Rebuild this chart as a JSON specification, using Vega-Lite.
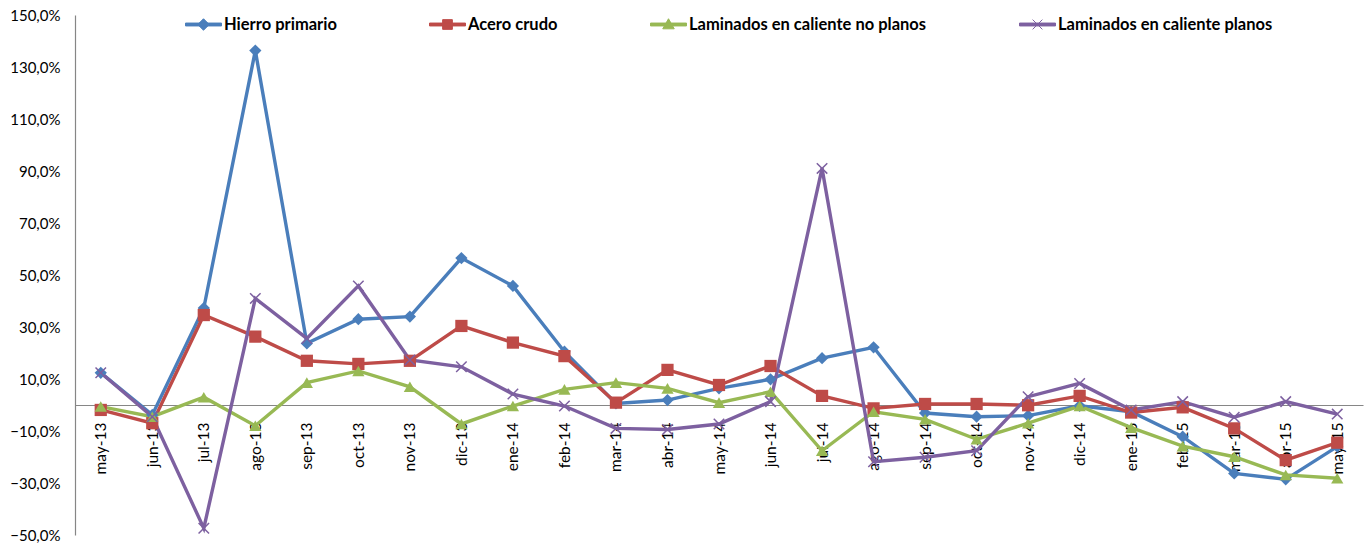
{
  "$schema": "https://vega.github.io/schema/vega-lite/v6.json",
  "width": 1288,
  "height": 520,
  "autosize": {"type": "none"},
  "padding": {"left": 75, "top": 15, "right": 5, "bottom": 9},
  "background": "white",
  "config": {"view": {"stroke": null}, "font": "Lato"},
  "datasets": {
    "d": [
      {"mes":"may-13","serie":"Hierro primario","valor":12.4},{"mes":"jun-13","serie":"Hierro primario","valor":-3.8},{"mes":"jul-13","serie":"Hierro primario","valor":37.3},{"mes":"ago-13","serie":"Hierro primario","valor":136.3},{"mes":"sep-13","serie":"Hierro primario","valor":23.7},{"mes":"oct-13","serie":"Hierro primario","valor":33.0},{"mes":"nov-13","serie":"Hierro primario","valor":34.0},{"mes":"dic-13","serie":"Hierro primario","valor":56.5},{"mes":"ene-14","serie":"Hierro primario","valor":45.8},{"mes":"feb-14","serie":"Hierro primario","valor":20.5},{"mes":"mar-14","serie":"Hierro primario","valor":0.6},{"mes":"abr-14","serie":"Hierro primario","valor":1.9},{"mes":"may-14","serie":"Hierro primario","valor":6.4},{"mes":"jun-14","serie":"Hierro primario","valor":9.9},{"mes":"jul-14","serie":"Hierro primario","valor":18.0},{"mes":"ago-14","serie":"Hierro primario","valor":22.2},{"mes":"sep-14","serie":"Hierro primario","valor":-3.1},{"mes":"oct-14","serie":"Hierro primario","valor":-4.5},{"mes":"nov-14","serie":"Hierro primario","valor":-4.1},{"mes":"dic-14","serie":"Hierro primario","valor":-0.3},{"mes":"ene-15","serie":"Hierro primario","valor":-2.6},{"mes":"feb-15","serie":"Hierro primario","valor":-12.2},{"mes":"mar-15","serie":"Hierro primario","valor":-26.3},{"mes":"abr-15","serie":"Hierro primario","valor":-28.6},{"mes":"may-15","serie":"Hierro primario","valor":-16.0},
      {"mes":"may-13","serie":"Acero crudo","valor":-1.9},{"mes":"jun-13","serie":"Acero crudo","valor":-7.0},{"mes":"jul-13","serie":"Acero crudo","valor":34.6},{"mes":"ago-13","serie":"Acero crudo","valor":26.3},{"mes":"sep-13","serie":"Acero crudo","valor":17.0},{"mes":"oct-13","serie":"Acero crudo","valor":15.8},{"mes":"nov-13","serie":"Acero crudo","valor":17.0},{"mes":"dic-13","serie":"Acero crudo","valor":30.4},{"mes":"ene-14","serie":"Acero crudo","valor":24.0},{"mes":"feb-14","serie":"Acero crudo","valor":18.8},{"mes":"mar-14","serie":"Acero crudo","valor":0.9},{"mes":"abr-14","serie":"Acero crudo","valor":13.5},{"mes":"may-14","serie":"Acero crudo","valor":7.7},{"mes":"jun-14","serie":"Acero crudo","valor":15.0},{"mes":"jul-14","serie":"Acero crudo","valor":3.5},{"mes":"ago-14","serie":"Acero crudo","valor":-1.3},{"mes":"sep-14","serie":"Acero crudo","valor":0.4},{"mes":"oct-14","serie":"Acero crudo","valor":0.4},{"mes":"nov-14","serie":"Acero crudo","valor":-0.1},{"mes":"dic-14","serie":"Acero crudo","valor":3.5},{"mes":"ene-15","serie":"Acero crudo","valor":-2.9},{"mes":"feb-15","serie":"Acero crudo","valor":-0.9},{"mes":"mar-15","serie":"Acero crudo","valor":-9.0},{"mes":"abr-15","serie":"Acero crudo","valor":-21.2},{"mes":"may-15","serie":"Acero crudo","valor":-14.5},
      {"mes":"may-13","serie":"Laminados en caliente no planos","valor":-0.6},{"mes":"jun-13","serie":"Laminados en caliente no planos","valor":-4.5},{"mes":"jul-13","serie":"Laminados en caliente no planos","valor":3.0},{"mes":"ago-13","serie":"Laminados en caliente no planos","valor":-8.0},{"mes":"sep-13","serie":"Laminados en caliente no planos","valor":8.6},{"mes":"oct-13","serie":"Laminados en caliente no planos","valor":13.1},{"mes":"nov-13","serie":"Laminados en caliente no planos","valor":7.0},{"mes":"dic-13","serie":"Laminados en caliente no planos","valor":-7.3},{"mes":"ene-14","serie":"Laminados en caliente no planos","valor":-0.4},{"mes":"feb-14","serie":"Laminados en caliente no planos","valor":6.0},{"mes":"mar-14","serie":"Laminados en caliente no planos","valor":8.6},{"mes":"abr-14","serie":"Laminados en caliente no planos","valor":6.4},{"mes":"may-14","serie":"Laminados en caliente no planos","valor":0.9},{"mes":"jun-14","serie":"Laminados en caliente no planos","valor":5.1},{"mes":"jul-14","serie":"Laminados en caliente no planos","valor":-17.6},{"mes":"ago-14","serie":"Laminados en caliente no planos","valor":-2.6},{"mes":"sep-14","serie":"Laminados en caliente no planos","valor":-5.5},{"mes":"oct-14","serie":"Laminados en caliente no planos","valor":-13.2},{"mes":"nov-14","serie":"Laminados en caliente no planos","valor":-7.0},{"mes":"dic-14","serie":"Laminados en caliente no planos","valor":-0.4},{"mes":"ene-15","serie":"Laminados en caliente no planos","valor":-8.7},{"mes":"feb-15","serie":"Laminados en caliente no planos","valor":-15.8},{"mes":"mar-15","serie":"Laminados en caliente no planos","valor":-19.9},{"mes":"abr-15","serie":"Laminados en caliente no planos","valor":-26.9},{"mes":"may-15","serie":"Laminados en caliente no planos","valor":-28.2},
      {"mes":"may-13","serie":"Laminados en caliente planos","valor":12.4},{"mes":"jun-13","serie":"Laminados en caliente planos","valor":-4.5},{"mes":"jul-13","serie":"Laminados en caliente planos","valor":-47.4},{"mes":"ago-13","serie":"Laminados en caliente planos","valor":41.0},{"mes":"sep-13","serie":"Laminados en caliente planos","valor":25.6},{"mes":"oct-13","serie":"Laminados en caliente planos","valor":45.8},{"mes":"nov-13","serie":"Laminados en caliente planos","valor":17.3},{"mes":"dic-13","serie":"Laminados en caliente planos","valor":14.7},{"mes":"ene-14","serie":"Laminados en caliente planos","valor":4.2},{"mes":"feb-14","serie":"Laminados en caliente planos","valor":-0.4},{"mes":"mar-14","serie":"Laminados en caliente planos","valor":-9.0},{"mes":"abr-14","serie":"Laminados en caliente planos","valor":-9.4},{"mes":"may-14","serie":"Laminados en caliente planos","valor":-7.3},{"mes":"jun-14","serie":"Laminados en caliente planos","valor":1.3},{"mes":"jul-14","serie":"Laminados en caliente planos","valor":91.0},{"mes":"ago-14","serie":"Laminados en caliente planos","valor":-21.8},{"mes":"sep-14","serie":"Laminados en caliente planos","valor":-20.1},{"mes":"oct-14","serie":"Laminados en caliente planos","valor":-17.6},{"mes":"nov-14","serie":"Laminados en caliente planos","valor":3.2},{"mes":"dic-14","serie":"Laminados en caliente planos","valor":8.3},{"mes":"ene-15","serie":"Laminados en caliente planos","valor":-1.9},{"mes":"feb-15","serie":"Laminados en caliente planos","valor":1.3},{"mes":"mar-15","serie":"Laminados en caliente planos","valor":-4.7},{"mes":"abr-15","serie":"Laminados en caliente planos","valor":1.3},{"mes":"may-15","serie":"Laminados en caliente planos","valor":-3.5}
    ]
  },
  "data": {"name": "d"},
  "encoding": {
    "x": {
      "field": "mes", "type": "nominal",
      "sort": ["may-13","jun-13","jul-13","ago-13","sep-13","oct-13","nov-13","dic-13","ene-14","feb-14","mar-14","abr-14","may-14","jun-14","jul-14","ago-14","sep-14","oct-14","nov-14","dic-14","ene-15","feb-15","mar-15","abr-15","may-15"],
      "scale": {"type": "point", "padding": 0.5},
      "axis": {"title": null, "offset": -130, "labelAngle": -90, "labelFontSize": 15.5, "labelColor": "#000000", "labelPadding": 17, "ticks": false, "domainColor": "#868686", "domainWidth": 1.2, "grid": false, "labelFont": "Lato"}
    },
    "y": {
      "field": "valor", "type": "quantitative",
      "scale": {"domain": [-50, 150], "nice": false, "zero": false},
      "axis": {"title": null, "values": [-50,-30,-10,10,30,50,70,90,110,130,150], "labelExpr": "replace(format(datum.value, '.1f'), '.', ',') + '%'", "labelFontSize": 15, "labelColor": "#000000", "labelPadding": 15, "ticks": false, "domainColor": "#868686", "domainWidth": 1.2, "grid": false, "labelFont": "Lato"}
    },
    "color": {
      "field": "serie", "type": "nominal",
      "scale": {"domain": ["Hierro primario","Acero crudo","Laminados en caliente no planos","Laminados en caliente planos"], "range": ["#4A7EBB","#BE4B48","#98B954","#7D60A0"]},
      "legend": {
        "title": null, "orient": "none", "direction": "horizontal", "columns": 4,
        "legendX": 110, "legendY": -9,
        "columnPadding": 90, "labelFontSize": 16.5, "labelFontWeight": "bold", "labelColor": "#000000", "labelFont": "Lato",
        "symbolSize": 1296, "symbolStrokeWidth": 1, "labelOffset": 2, "labelLimit": 400,
        "encode": {
          "symbols": {
            "update": {
              "shape": {"signal": "datum.value === 'Hierro primario' ? 'M-1,-0.08H1V0.08H-1Z M0,-0.32L0.32,0L0,0.32L-0.32,0Z' : datum.value === 'Acero crudo' ? 'M-1,-0.08H1V0.08H-1Z M-0.27,-0.27H0.27V0.27H-0.27Z' : datum.value === 'Laminados en caliente no planos' ? 'M-1,-0.08H1V0.08H-1Z M0,-0.32L0.32,0.24H-0.32Z' : 'M-1,-0.08H1V0.08H-1Z M-0.27,-0.27L0.27,0.27M-0.27,0.27L0.27,-0.27'"},
              "fill": {"scale": "color", "field": "value"},
              "stroke": {"scale": "color", "field": "value"},
              "strokeWidth": {"value": 1},
              "size": {"value": 1296},
              "opacity": {"value": 1}
            }
          }
        }
      }
    }
  },
  "layer": [
    {"mark": {"type": "line", "strokeWidth": 3.4}},
    {"transform": [{"filter": "datum.serie === 'Hierro primario'"}], "mark": {"type": "point", "filled": true, "shape": "diamond", "size": 150, "opacity": 1}},
    {"transform": [{"filter": "datum.serie === 'Acero crudo'"}], "mark": {"type": "point", "filled": true, "shape": "square", "size": 150, "opacity": 1}},
    {"transform": [{"filter": "datum.serie === 'Laminados en caliente no planos'"}], "mark": {"type": "point", "filled": true, "shape": "triangle-up", "size": 150, "opacity": 1}},
    {"transform": [{"filter": "datum.serie === 'Laminados en caliente planos'"}], "mark": {"type": "point", "filled": false, "shape": "M-1,-1L1,1M-1,1L1,-1", "size": 110, "strokeWidth": 1.5, "opacity": 1}}
  ]
}
